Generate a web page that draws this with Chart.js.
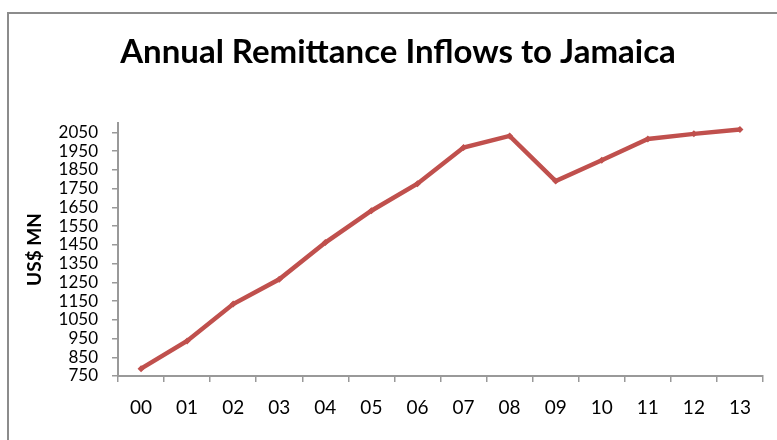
<!DOCTYPE html>
<html>
<head>
<meta charset="utf-8">
<title>Annual Remittance Inflows to Jamaica</title>
<script src="https://cdn.jsdelivr.net/npm/chart.js@4.4.1/dist/chart.umd.min.js"></script>
<style>
    body { margin: 0; overflow: hidden; background: #fff; }
    #frame { position: absolute; left: 7px; top: 12px; width: 800px; height: 500px; border: 2px solid #8c8c8c; }
    #chart { position: absolute; left: 9px; top: 14px; }
</style>
</head>
<body>
<div id="frame"></div>
<canvas id="chart" width="781" height="430"></canvas>
<script>
const titleText = 'Annual Remittance Inflows to Jamaica';
const axisTitle = 'US$ MN';
const years = ['00', '01', '02', '03', '04', '05', '06', '07', '08', '09', '10', '11', '12', '13'];
const remittances = [789, 937, 1134, 1266, 1462, 1632, 1776, 1969, 2031, 1790, 1901, 2015, 2042, 2065];
const yTicks = [750, 850, 950, 1050, 1150, 1250, 1350, 1450, 1550, 1650, 1750, 1850, 1950, 2050];
const yMin = 750;
const yMax = 2100;

const lineColor = '#C0504D';
const axisColor = '#999999';
const fontFamily = 'Lato';

const ctx = document.getElementById('chart').getContext('2d');

new Chart(ctx, {
    type: 'line',
    data: {
        labels: years,
        datasets: [{
            data: remittances,
            borderColor: lineColor,
            backgroundColor: lineColor,
            borderWidth: 4.5,
            pointStyle: 'rectRot',
            pointRadius: 3.5,
            pointBorderWidth: 0,
            pointBackgroundColor: lineColor,
            tension: 0
        }]
    },
    options: {
        responsive: false,
        animation: false,
        devicePixelRatio: 1,
        // left/right padding keeps the title centred on the framed box
        layout: { padding: { left: 24, right: 27, top: 0, bottom: 0 } },
        plugins: {
            legend: { display: false },
            tooltip: { enabled: false },
            title: {
                display: true,
                text: titleText,
                color: '#000',
                font: { family: fontFamily, size: 33, weight: 'bold' },
                padding: { top: 18.2, bottom: 51.2 }
            }
        },
        scales: {
            x: {
                offset: true,
                grid: { offset: true, drawOnChartArea: false, tickLength: 6, color: axisColor, lineWidth: 1.5 },
                border: { color: axisColor, width: 2 },
                ticks: { color: '#000', font: { family: fontFamily, size: 19 }, padding: 14, maxRotation: 0 },
                afterFit: s => { s.height = 68; }
            },
            y: {
                min: yMin,
                max: yMax,
                afterBuildTicks: s => { s.ticks = yTicks.map(v => ({ value: v })); },
                grid: { drawOnChartArea: false, tickLength: 6, color: axisColor, lineWidth: 1.5 },
                border: { color: axisColor, width: 2 },
                ticks: {
                    color: '#000',
                    font: { family: fontFamily, size: 17 },
                    padding: 14,
                    autoSkip: false,
                    callback: v => String(v)
                },
                title: {
                    display: true,
                    text: axisTitle,
                    color: '#000',
                    font: { family: fontFamily, size: 19, weight: 'bold' },
                    padding: { top: -9.4 }
                },
                afterFit: s => { s.width = 85; }
            }
        }
    }
});
</script>
</body>
</html>
